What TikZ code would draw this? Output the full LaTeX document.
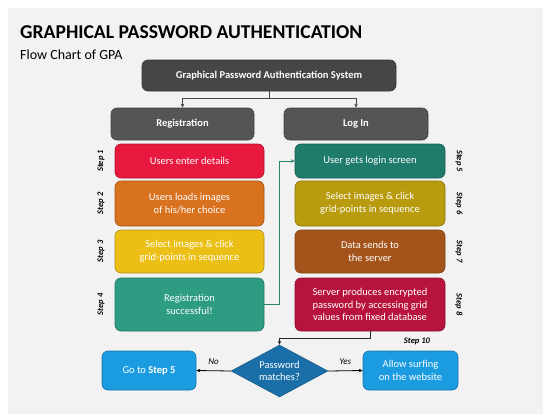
\documentclass[tikz,border=0pt]{standalone}
\usepackage{fontspec}
\setmainfont{Carlito}
\usetikzlibrary{shapes.geometric,arrows.meta}

\definecolor{bggray}{HTML}{F2F2F2}
\definecolor{topgray}{HTML}{464646}
\definecolor{midgray}{HTML}{555555}
\definecolor{stepred}{HTML}{E8193F}
\definecolor{steporange}{HTML}{D9721E}
\definecolor{stepyellow}{HTML}{EBBF15}
\definecolor{stepteal}{HTML}{2E9C82}
\definecolor{stepdarkteal}{HTML}{1F7B6C}
\definecolor{stepolive}{HTML}{B89B0F}
\definecolor{stepbrown}{HTML}{A4541A}
\definecolor{stepcrimson}{HTML}{B8133C}
\definecolor{resultblue}{HTML}{1B9BE0}
\definecolor{decideblue}{HTML}{1B6FA8}

\begin{document}
\begin{tikzpicture}[x=1pt,y=-1pt,
  box/.style={draw=#1!75!black, fill=#1, rounded corners=6pt, text=white,
    align=center, inner sep=2pt, line width=0.6pt,
    font=\fontsize{10.5}{12.5}\selectfont},
  leftbox/.style={box=#1, minimum width=149pt},
  rightbox/.style={box=#1, minimum width=150pt},
  steplabel/.style={font=\fontsize{8.5}{9.5}\selectfont\bfseries\itshape, inner sep=0pt},
  conn/.style={-{Stealth[length=4pt,width=3.5pt]}, line width=0.8pt}]

\useasboundingbox (0,0) rectangle (543,415);
\fill[bggray] (8,8) rectangle (543,414);

% heading
\node[anchor=base west, inner sep=0pt, font=\fontsize{19.6}{22}\selectfont\bfseries] (title) at (20,38) {GRAPHICAL PASSWORD AUTHENTICATION};
\node[anchor=base west, inner sep=0pt, font=\fontsize{14}{16}\selectfont] (subtitle) at (20,59) {Flow Chart of GPA};

% top of the tree
\node[box=topgray, minimum width=254pt, minimum height=31pt, font=\fontsize{10.5}{12.5}\selectfont\bfseries] (gpa) at (269,75.5) {Graphical Password Authentication System};
\node[box=midgray, minimum width=143pt, minimum height=32pt, font=\fontsize{10.5}{12.5}\selectfont\bfseries] (reg) at (182.5,124) {Registration};
\node[box=midgray, minimum width=144pt, minimum height=32pt, font=\fontsize{10.5}{12.5}\selectfont\bfseries] (login) at (356,124) {Log In};

% registration steps
\node[leftbox=stepred, minimum height=34pt] (s1) at (189.5,161) {Users enter details};
\node[leftbox=steporange, minimum height=45pt] (s2) at (189.5,203.5) {Users loads images\\of his/her choice};
\node[leftbox=stepyellow, minimum height=43pt] (s3) at (189.5,251.5) {Select images \& click\\grid-points in sequence};
\node[leftbox=stepteal, minimum height=53pt] (s4) at (189.5,304.5) {Registration\\successful!};

% log in steps
\node[rightbox=stepdarkteal, minimum height=34pt] (s5) at (370,161) {User gets login screen};
\node[rightbox=stepolive, minimum height=45pt] (s6) at (370,203.5) {Select images \& click\\grid-points in sequence};
\node[rightbox=stepbrown, minimum height=43pt] (s7) at (370,251.5) {Data sends to\\the server};
\node[rightbox=stepcrimson, minimum height=53pt] (s8) at (370,304.5) {Server produces encrypted\\password by accessing grid\\values from fixed database};

% step labels
\begin{scope}[every node/.style={steplabel, rotate=90}]
  \node (l1) at (101,161) {Step 1};
  \node (l2) at (101,203.5) {Step 2};
  \node (l3) at (101,251.5) {Step 3};
  \node (l4) at (101,304.5) {Step 4};
\end{scope}
\begin{scope}[every node/.style={steplabel, rotate=-90}]
  \node (l5) at (459,161) {Step 5};
  \node (l6) at (459,203.5) {Step 6};
  \node (l7) at (459,251.5) {Step 7};
  \node (l8) at (459,304.5) {Step 8};
\end{scope}
\node[steplabel] (l10) at (417,341) {Step 10};

% decision
\node[draw=decideblue!75!black, fill=decideblue, shape=diamond, aspect=1.87, inner sep=0pt,
  minimum width=97pt, minimum height=52pt, text=white, align=center,
  font=\fontsize{10.5}{12.5}\selectfont] (match) at (279.5,371) {Password\\matches?};
\node[box=resultblue, minimum width=94pt, minimum height=39pt] (goto) at (149,370.5) {Go to \textbf{Step 5}};
\node[box=resultblue, minimum width=95pt, minimum height=39pt] (allow) at (410.5,370.5) {Allow surfing\\on the website};

% connectors
\draw[conn, draw=topgray] (gpa.south) -- ++(0,7) -| (reg.north);
\draw[conn, draw=topgray] (gpa.south) -- ++(0,7) -| (login.north);
\draw[conn, draw=stepteal!85!black] (s4.east) -- ++(15,0) |- (s5.west);
\draw[conn, draw=black!85] (s8.south) -- ++(0,7) -| (match.north);
\draw[conn] (match.west) -- node[above=2pt, font=\fontsize{9}{10}\selectfont\itshape] (no) {No} (goto.east);
\draw[conn] (match.east) -- node[above=2pt, font=\fontsize{9}{10}\selectfont\itshape] (yes) {Yes} (allow.west);
\end{tikzpicture}
\end{document}
